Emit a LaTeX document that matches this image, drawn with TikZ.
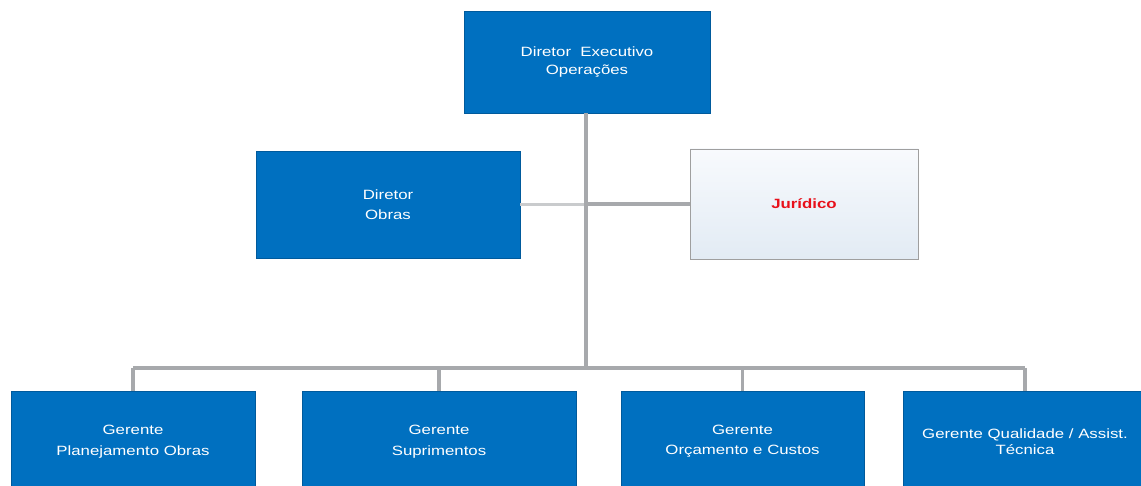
\documentclass[tikz,border=0pt]{standalone}
\usepackage{fontspec}
\setmainfont[FakeStretch=1.25]{Liberation Sans}
\usetikzlibrary{shadows}
\definecolor{boxblue}{HTML}{0070C0}
\definecolor{boxedge}{HTML}{005A9C}
\definecolor{linkgray}{HTML}{A7A9AC}
\definecolor{linklight}{HTML}{C9CBCD}
\definecolor{jurtop}{HTML}{F8FAFD}
\definecolor{jurbot}{HTML}{E2EBF4}
\definecolor{jurred}{HTML}{E8101A}
\tikzset{
  orgbox/.style={draw=boxedge, line width=0.6bp, fill=boxblue, text=white,
    align=center, inner sep=0pt, font=\fontsize{13.5}{20.5}\selectfont,
    drop shadow={shadow xshift=1.2bp, shadow yshift=-1.5bp, fill=black, opacity=.35}},
  staffbox/.style={draw=gray!75, line width=0.8bp, top color=jurtop, bottom color=jurbot,
    text=jurred, align=center, inner sep=0pt, font=\fontsize{13.5}{19}\selectfont\bfseries,
    drop shadow={shadow xshift=1.2bp, shadow yshift=-1.5bp, fill=black, opacity=.3}},
  link/.style={draw=linkgray, line width=3.6bp},
  lightlink/.style={draw=linklight, line width=3.2bp},
}
\begin{document}
\begin{tikzpicture}[x=1bp, y=-1bp]
\useasboundingbox (0,0) rectangle (1141,486);
\clip (0,0) rectangle (1141,486);

% trunk junction points
\coordinate (bus) at (586,368);

% chart boxes
\node[orgbox, minimum width=246bp, minimum height=102bp, font=\fontsize{13.5}{17.5}\selectfont] (ceo) at (587,62)
  {Diretor\ \ Executivo\\Operações};
\node[orgbox, minimum width=264bp, minimum height=107bp, font=\fontsize{13.5}{20}\selectfont] (obras) at (388,204.5)
  {Diretor\\Obras};
\node[staffbox, minimum width=228bp, minimum height=110bp] (jur) at (804,204)
  {Jurídico};
\node[orgbox, minimum width=244bp, minimum height=101bp] (g1) at (133,441.5)
  {Gerente\\Planejamento Obras};
\node[orgbox, minimum width=274bp, minimum height=101bp] (g2) at (439,441.5)
  {Gerente\\Suprimentos};
\node[orgbox, minimum width=243bp, minimum height=101bp] (g3) at (742.5,441.5)
  {Gerente\\Orçamento e Custos};
\node[orgbox, minimum width=244bp, minimum height=101bp, font=\fontsize{13.5}{16}\selectfont] (g4) at (1025,441.5)
  {Gerente Qualidade / Assist.\\Técnica};

% connectors
\draw[lightlink] (obras.east) -- (obras.east -| bus);
\draw[link] (bus |- jur.west) -- (jur.west);
\draw[link] (ceo.south -| bus) -- (bus);
\draw[link] (g1.north |- bus) -- (g4.north |- bus);
\foreach \g in {g1,g2,g3,g4}
  \draw[link] (\g.north |- bus) -- (\g.north);
\end{tikzpicture}
\end{document}
